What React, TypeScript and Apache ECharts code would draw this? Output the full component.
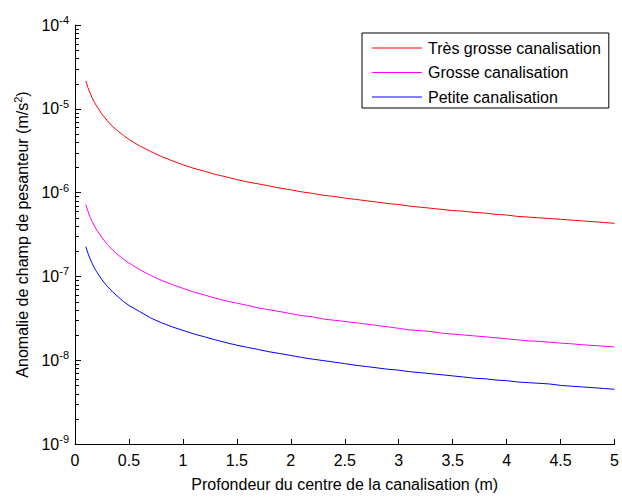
import React, { useEffect, useRef } from "react";
import * as echarts from "echarts";

const depths = [0.1,0.12,0.14,0.16,0.18,0.2,0.25,0.3,0.35,0.4,0.45,0.5,0.6,0.7,0.8,0.9,1.0,1.1,1.2,1.3,1.4,1.5,1.6,1.7,1.8,1.9,2.0,2.1,2.2,2.3,2.4,2.5,2.6,2.7,2.8,2.9,3.0,3.1,3.2,3.3,3.4,3.5,3.6,3.7,3.8,3.9,4.0,4.1,4.2,4.3,4.4,4.5,4.6,4.7,4.8,4.9,5.0];

const tresGrosse = [2.15e-5,1.79e-5,1.54e-5,1.34e-5,1.19e-5,1.08e-5,8.6e-6,7.2e-6,6.1e-6,5.4e-6,4.8e-6,4.3e-6,3.6e-6,3.1e-6,2.7e-6,2.4e-6,2.15e-6,1.95e-6,1.8e-6,1.65e-6,1.54e-6,1.43e-6,1.34e-6,1.27e-6,1.2e-6,1.13e-6,1.08e-6,1.02e-6,9.8e-7,9.3e-7,9.0e-7,8.6e-7,8.3e-7,8.0e-7,7.7e-7,7.4e-7,7.2e-7,6.9e-7,6.7e-7,6.5e-7,6.3e-7,6.1e-7,6.0e-7,5.8e-7,5.7e-7,5.5e-7,5.4e-7,5.2e-7,5.1e-7,5.0e-7,4.9e-7,4.8e-7,4.7e-7,4.6e-7,4.5e-7,4.4e-7,4.3e-7];

const grosse = [7.2e-7,6.0e-7,5.1e-7,4.5e-7,4.0e-7,3.6e-7,2.9e-7,2.4e-7,2.06e-7,1.8e-7,1.6e-7,1.44e-7,1.2e-7,1.03e-7,9.0e-8,8.0e-8,7.2e-8,6.5e-8,6.0e-8,5.5e-8,5.1e-8,4.8e-8,4.5e-8,4.2e-8,4.0e-8,3.8e-8,3.6e-8,3.4e-8,3.3e-8,3.1e-8,3.0e-8,2.9e-8,2.8e-8,2.7e-8,2.6e-8,2.5e-8,2.4e-8,2.3e-8,2.25e-8,2.2e-8,2.1e-8,2.05e-8,2.0e-8,1.95e-8,1.9e-8,1.85e-8,1.8e-8,1.75e-8,1.7e-8,1.68e-8,1.64e-8,1.6e-8,1.57e-8,1.53e-8,1.5e-8,1.47e-8,1.44e-8];

const petite = [2.27e-7,1.89e-7,1.62e-7,1.42e-7,1.26e-7,1.14e-7,9.1e-8,7.6e-8,6.5e-8,5.7e-8,5.0e-8,4.5e-8,3.8e-8,3.2e-8,2.8e-8,2.5e-8,2.27e-8,2.06e-8,1.9e-8,1.75e-8,1.62e-8,1.51e-8,1.42e-8,1.34e-8,1.26e-8,1.2e-8,1.14e-8,1.08e-8,1.03e-8,9.9e-9,9.5e-9,9.1e-9,8.7e-9,8.4e-9,8.1e-9,7.8e-9,7.6e-9,7.3e-9,7.1e-9,6.9e-9,6.7e-9,6.5e-9,6.3e-9,6.1e-9,6.0e-9,5.8e-9,5.7e-9,5.5e-9,5.4e-9,5.3e-9,5.2e-9,5.0e-9,4.9e-9,4.8e-9,4.7e-9,4.6e-9,4.5e-9];

const seriesNames = ["Très grosse canalisation", "Grosse canalisation", "Petite canalisation"];
const seriesColors = ["#ff0000", "#ff00ff", "#0000ff"];
const seriesValues = [tresGrosse, grosse, petite];

const decades = [-9, -8, -7, -6, -5];
const minorMultipliers = [2, 3, 4, 5, 6, 7, 8, 9];
const minorTickValues: number[] = [];
decades.forEach((e) => minorMultipliers.forEach((m) => minorTickValues.push(m * Math.pow(10, e))));

const FONT = "'Liberation Sans', Arial, sans-serif";
const FS = 16;

export default function App() {
  const ref = useRef<HTMLDivElement>(null);
  useEffect(() => {
    if (!ref.current) return;
    const chart = echarts.init(ref.current, null, { renderer: "svg" });
    const supStyle = { fontFamily: FONT, fontSize: 11, color: "#000000", verticalAlign: "bottom", padding: [0, 0, 10, 0] };
    const option: any = {
      animation: false,
      backgroundColor: "#ffffff",
      textStyle: { fontFamily: FONT },
      grid: { left: 75, right: 7, top: 25, bottom: 47, containLabel: false },
      legend: {
        orient: "vertical",
        left: 362,
        top: 33,
        backgroundColor: "#ffffff",
        borderColor: "#000000",
        borderWidth: 1,
        borderRadius: 0,
        padding: [7, 8, 3, 10],
        itemGap: 8.5,
        itemWidth: 50,
        itemHeight: 1,
        icon: "rect",
        textStyle: { fontFamily: FONT, fontSize: FS, color: "#000000", padding: [0, 0, 0, 1] },
        data: seriesNames,
      },
      xAxis: {
        type: "value",
        min: 0,
        max: 5,
        interval: 0.5,
        name: "Profondeur du centre de la canalisation (m)",
        nameLocation: "middle",
        nameGap: 32,
        nameTextStyle: { fontFamily: FONT, fontSize: FS, color: "#000000" },
        axisLine: { show: true, onZero: false, lineStyle: { color: "#000000", width: 1 } },
        axisTick: { show: true, inside: true, length: 5, lineStyle: { color: "#000000" } },
        axisLabel: { fontFamily: FONT, fontSize: FS, color: "#000000", margin: 8 },
        splitLine: { show: false },
      },
      yAxis: {
        type: "log",
        logBase: 10,
        min: 1e-9,
        max: 1e-4,
        name: "Anomalie de champ de pesanteur (m/s{sup|2})",
        nameLocation: "middle",
        nameGap: 39,
        nameTextStyle: {
          fontFamily: FONT,
          fontSize: FS,
          color: "#000000",
          rich: { sup: supStyle },
        },
        axisLine: { show: true, lineStyle: { color: "#000000", width: 1 } },
        axisTick: { show: true, inside: true, length: 6, lineStyle: { color: "#000000" } },
        axisLabel: {
          fontFamily: FONT,
          fontSize: FS,
          color: "#000000",
          margin: 6,
          formatter: (v: number) => `10{sup|${Math.round(Math.log10(v))}}`,
          rich: { sup: supStyle },
        },
        splitLine: { show: false },
      },
      series: [
        ...seriesNames.map((name, i) => ({
          name,
          type: "line",
          symbol: "none",
          showSymbol: false,
          lineStyle: { color: seriesColors[i], width: 1 },
          itemStyle: { color: seriesColors[i] },
          data: depths.map((d, j) => [d, seriesValues[i][j]]),
        })),
        {
          name: "minorTicks",
          type: "custom",
          silent: true,
          clip: false,
          z: 10,
          data: minorTickValues.map((v) => [0, v]),
          renderItem: (params: any, api: any) => {
            const p = api.coord([0, api.value(1)]);
            const y = Math.round(p[1]) + 0.5;
            return {
              type: "line",
              shape: { x1: p[0], y1: y, x2: p[0] + 4, y2: y },
              style: { stroke: "#000000", lineWidth: 1 },
            };
          },
        },
      ],
    };
    chart.setOption(option);
    return () => chart.dispose();
  }, []);
  return <div ref={ref} style={{ position: "absolute", left: 0, top: 0, width: 622, height: 497 }} />;
}
